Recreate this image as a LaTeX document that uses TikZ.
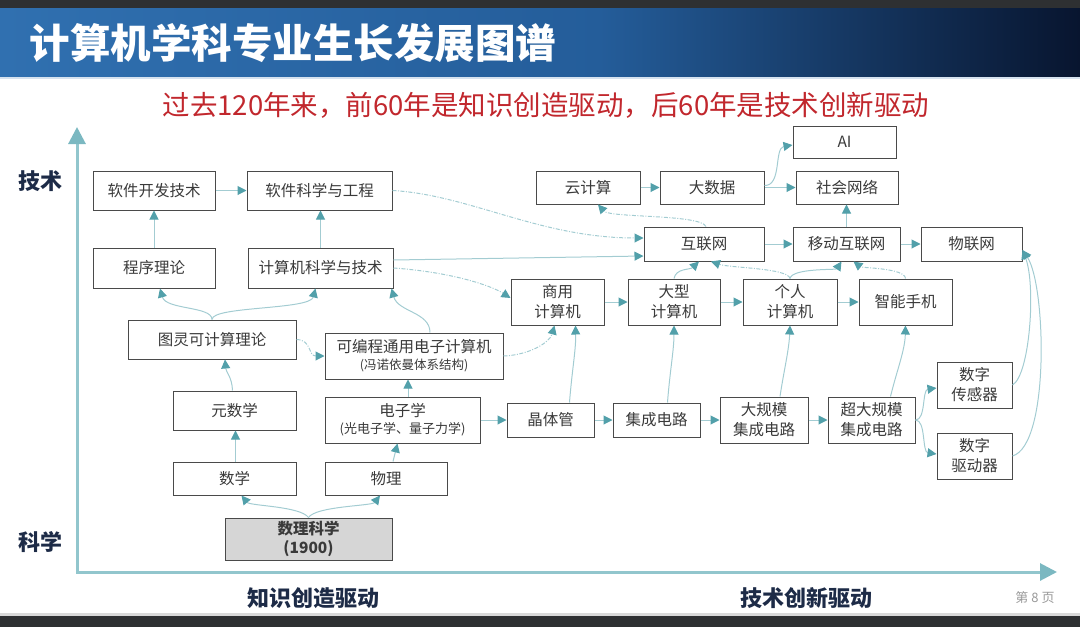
\documentclass[tikz,border=0pt]{standalone}
\usepackage{fontspec}
\setmainfont{Noto Sans CJK SC}
\usetikzlibrary{arrows.meta}
\definecolor{topdark}{HTML}{2E3032}
\definecolor{boxc}{HTML}{4A4A4A}
\definecolor{txtc}{HTML}{3A3A3A}
\definecolor{linec}{HTML}{A3CCD2}
\definecolor{arrc}{HTML}{52A0AA}
\definecolor{axc}{HTML}{92C6CD}
\definecolor{axarr}{HTML}{7BB8C1}
\definecolor{navyc}{HTML}{1D2B47}
\definecolor{subred}{HTML}{C1272D}
\definecolor{grayfill}{HTML}{D6D6D6}
\definecolor{blueA}{HTML}{3070B0}
\definecolor{blueB}{HTML}{245D9A}
\definecolor{blueC}{HTML}{08152F}
\begin{document}
\begin{tikzpicture}[x=1pt,y=-1pt,
  box/.style={draw=boxc, line width=1pt, fill=white, inner sep=0pt, text=txtc,
    font=\fontsize{15.5}{20}\selectfont, align=center},
  wh/.style 2 args={minimum width=#1pt, minimum height=#2pt},
  conn/.style={draw=linec, line width=1pt, -{Triangle[length=9pt,width=9pt,color=arrc]}},
  dconn/.style={conn, dash pattern=on 4pt off 1.5pt on 1pt off 1.5pt},
  axlab/.style={font=\fontsize{22}{22}\selectfont\bfseries, text=navyc}]
\useasboundingbox (0,0) rectangle (1080,627);
% header
\fill[topdark] (0,0) rectangle (1080,8);
\shade[left color=blueA, right color=blueB] (0,8) rectangle (600,77);
\shade[left color=blueB, right color=blueC] (599,8) rectangle (1080,77);
\fill[white!80!blueA] (0,77) rectangle (1080,79);
\fill[topdark] (0,616) rectangle (1080,627);
\fill[black!15] (0,613) rectangle (1080,616);
\node[anchor=west, text=white, font=\fontsize{40.5}{40}\selectfont\bfseries] (title) at (26,43) {计算机学科专业生长发展图谱};
\node[text=subred, font=\fontsize{27.5}{27}\selectfont] (sub) at (546,105) {过去120年来，前60年是知识创造驱动，后60年是技术创新驱动};
% axes
\coordinate (ytop) at (77,127);
\coordinate (orig) at (77,572);
\coordinate (xend) at (1057,572);
\draw[axc, line width=3pt, {Triangle[length=17pt,width=17pt,color=axarr]}-{Triangle[length=17pt,width=17pt,color=axarr]}] (ytop) -- (orig) -- (xend);
\node[axlab] (jishu) at (41,181) {技术};
\node[axlab] (kexue) at (41,542) {科学};
\node[axlab] (zscz) at (313,598) {知识创造驱动};
\node[axlab] (jscx) at (806,598) {技术创新驱动};
\node[text=black!40, font=\fontsize{13}{13}\selectfont] (page) at (1035,598) {第 8 页};
% boxes left
\node[box,wh={122}{39}] (rjkf) at (154,190.5) {软件开发技术};
\node[box,wh={145}{39}] (rjgc) at (319.5,190.5) {软件科学与工程};
\node[box,wh={122}{40}] (cxll) at (154,268) {程序理论};
\node[box,wh={145}{40}] (jsjkx) at (320.5,268) {计算机科学与技术};
\node[box,wh={168}{39}] (tl) at (212,339.5) {图灵可计算理论};
\node[box,wh={178}{46}] (kbc) at (414,356) {可编程通用电子计算机\\[-3pt]{\fontsize{12.5}{15}\selectfont(冯诺依曼体系结构)}};
\node[box,wh={123}{39}] (ysx) at (234.5,410.5) {元数学};
\node[box,wh={155}{46}] (dzx) at (402.5,420) {电子学\\[-3pt]{\fontsize{13}{15}\selectfont(光电子学、量子力学)}};
\node[box,wh={123}{33}] (sx) at (234.5,478.5) {数学};
\node[box,wh={122}{33}] (wl) at (386,478.5) {物理};
\node[box,wh={167}{42},fill=grayfill,font=\fontsize{15.5}{19}\selectfont\bfseries] (slkx) at (308.5,539) {数理科学\\(1900)};
% boxes right
\node[box,wh={103}{32}] (ai) at (844.5,142) {AI};
\node[box,wh={104}{33}] (yjs) at (588,187.5) {云计算};
\node[box,wh={104}{33}] (dsj) at (712,187.5) {大数据};
\node[box,wh={102}{33}] (shwl) at (847,187.5) {社会网络};
\node[box,wh={120}{34}] (hlw) at (704,244) {互联网};
\node[box,wh={107}{34}] (ydhlw) at (846.5,244) {移动互联网};
\node[box,wh={101}{34}] (wlw) at (971.5,244) {物联网};
\node[box,wh={93}{46}] (sy) at (557.5,302) {商用\\计算机};
\node[box,wh={92}{46}] (dx) at (674,302) {大型\\计算机};
\node[box,wh={94}{46}] (gr) at (790,302) {个人\\计算机};
\node[box,wh={93}{46}] (zn) at (905.5,302) {智能手机};
\node[box,wh={87}{34}] (jtg) at (550.5,420) {晶体管};
\node[box,wh={87}{34}] (jcdl) at (656.5,420) {集成电路};
\node[box,wh={88}{46}] (dgm) at (764,420) {大规模\\集成电路};
\node[box,wh={87}{46}] (cdgm) at (871.5,420) {超大规模\\集成电路};
\node[box,wh={75}{46}] (cgq) at (974.5,385) {数字\\传感器};
\node[box,wh={75}{46}] (qdq) at (974.5,456) {数字\\驱动器};
% connectors left
\draw[conn] (rjkf.east) -- (rjgc.west);
\draw[conn] (cxll.north) -- (rjkf.south);
\draw[conn] (jsjkx.north) -- (jsjkx.north |- rjgc.south);
\draw[conn] (tl.north) .. controls (212,306) and (166,310) .. ([xshift=6pt]cxll.south);
\draw[conn] (tl.north) .. controls (212,306) and (310,310) .. ([xshift=-5pt]jsjkx.south);
\draw[conn] ([xshift=16pt]kbc.north) .. controls (430,312) and (398,312) .. ([xshift=-2pt]jsjkx.south east);
\draw[dconn] (tl.east) .. controls (312,340) and (308,356) .. (kbc.west);
\draw[dconn] (kbc.east) .. controls (530,355) and (550,342) .. ([xshift=-3pt]sy.south);
\draw[conn] ([xshift=-2pt]ysx.north) .. controls (232,377) and (226,372) .. ([xshift=13pt]tl.south);
\draw[conn] ([xshift=1pt]sx.north) -- ([xshift=1pt]ysx.south);
\draw[conn] (slkx.north) .. controls (300,506) and (250,506) .. ([xshift=7pt]sx.south);
\draw[conn] (slkx.north) .. controls (316,506) and (372,506) .. ([xshift=-6pt]wl.south);
\draw[conn] ([xshift=7pt]wl.north) -- ([xshift=-5pt]dzx.south);
\draw[conn] ([xshift=5.5pt]dzx.north) -- ([xshift=-6pt]kbc.south);
\draw[conn] (dzx.east) -- (jtg.west);
\draw[dconn] (rjgc.east) .. controls (470,195) and (540,238) .. ([yshift=6pt]hlw.west);
\draw[conn] ([yshift=8pt]jsjkx.east) -- ([yshift=-12pt]hlw.west);
\draw[dconn] (jsjkx.east) .. controls (450,272) and (490,285) .. ([yshift=4pt]sy.west);
% connectors right
\draw[conn] (jtg.east) -- (jcdl.west);
\draw[conn] (jcdl.east) -- (dgm.west);
\draw[conn] (dgm.east) -- (cdgm.west);
\draw[conn] ([xshift=19pt]jtg.north) .. controls (572,370) and (576,350) .. ([xshift=18pt]sy.south);
\draw[conn] ([xshift=11pt]jcdl.north) .. controls (670,370) and (674,350) .. (dx.south);
\draw[conn] ([xshift=16pt]dgm.north) .. controls (784,370) and (789,350) .. (gr.south);
\draw[conn] ([xshift=19pt]cdgm.north) .. controls (897,370) and (905,350) .. (zn.south);
\draw[conn] (cdgm.east) .. controls (926,420) and (922,390) .. ([yshift=-3pt]cgq.west);
\draw[conn] (cdgm.east) .. controls (926,420) and (922,452) .. ([yshift=2pt]qdq.west);
\draw[conn] (cgq.east) .. controls (1030,375) and (1036,285) .. ([yshift=-6pt]wlw.east);
\draw[conn] (qdq.east) .. controls (1050,445) and (1046,285) .. ([yshift=-6pt]wlw.east);
\draw[conn] (sy.east) -- (dx.west);
\draw[conn] (dx.east) -- (gr.west);
\draw[conn] (gr.east) -- (zn.west);
\draw[conn] (dx.north) .. controls (676,268) and (690,270) .. ([xshift=-5pt]hlw.south);
\draw[dconn] (gr.north) .. controls (788,268) and (730,268) .. ([xshift=7pt]hlw.south);
\draw[conn] (gr.north) .. controls (792,268) and (836,270) .. ([xshift=-5pt]ydhlw.south);
\draw[dconn] (zn.north) .. controls (905,268) and (862,268) .. ([xshift=7pt]ydhlw.south);
\draw[conn] (hlw.east) -- (ydhlw.west);
\draw[conn] (ydhlw.east) -- (wlw.west);
\draw[conn] (ydhlw.north) -- (ydhlw.north |- shwl.south);
\draw[dconn] ([xshift=2pt]hlw.north) .. controls (700,214) and (610,218) .. ([xshift=10pt]yjs.south);
\draw[conn] (yjs.east) -- (dsj.west);
\draw[conn] (dsj.east) -- (shwl.west);
\draw[conn] ([yshift=2pt]dsj.east) .. controls (782,186) and (774,148) .. ([yshift=-3pt]ai.west);
\end{tikzpicture}
\end{document}
